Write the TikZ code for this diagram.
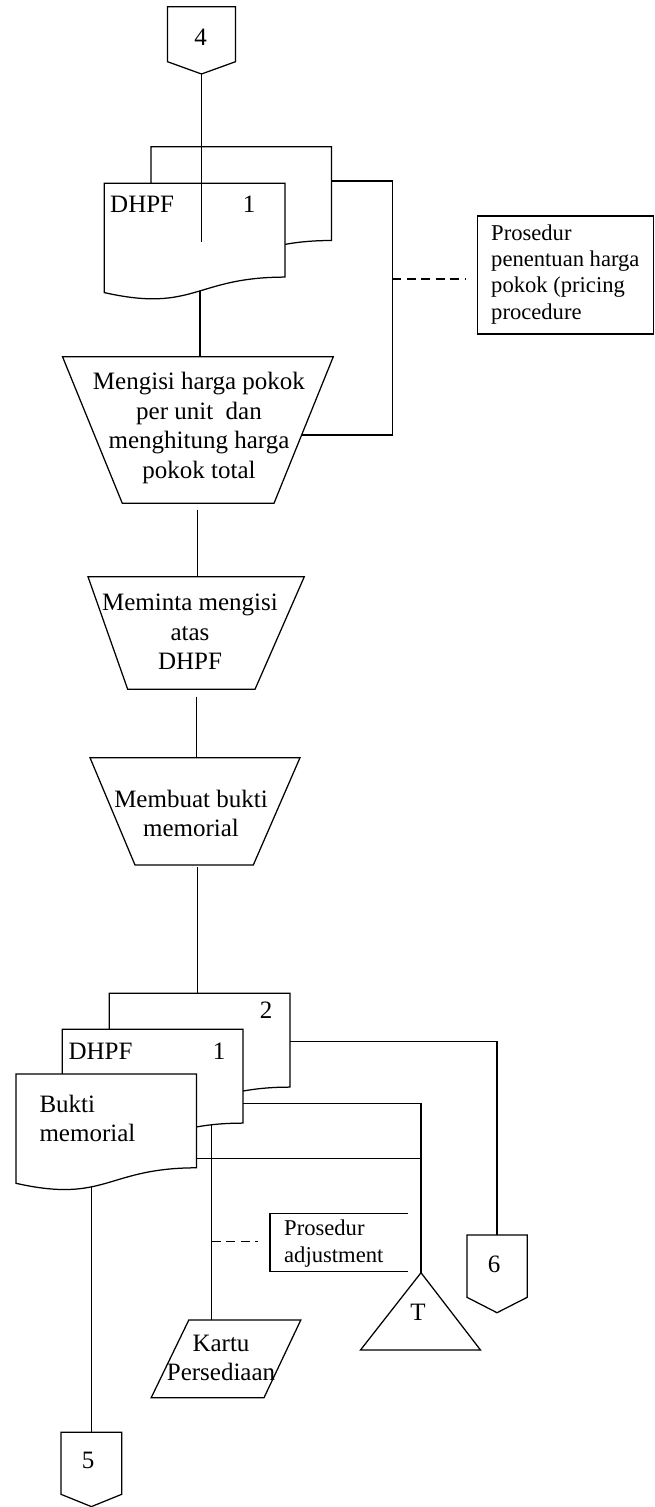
\documentclass[tikz,border=0pt]{standalone}
\usepackage{fontspec}
\setmainfont{Liberation Serif}
% document symbol: name, left, top, position of the tap point on the wavy edge
\newcommand\flowdocument[4]{%
  \draw[shapeline] (#2,#3) coordinate (#1-nw) -- (#2+180.6,#3) coordinate (#1-ne)
    -- (#2+180.6,#3+93.8) coordinate (#1-se)
    .. controls (#2+90.3,#3+93.8) and (#2+90.3,#3+129.6) .. coordinate[pos=#4] (#1-w) (#2,#3+109.3) coordinate (#1-sw)
    -- cycle;}
\begin{document}
\begin{tikzpicture}[x=1pt,y=-1pt,
  shapeline/.style={draw=black,line width=1.25pt,fill=white,line join=miter},
  link/.style={draw=black,line width=1.25pt},
  tapline/.style={draw=black,line width=1.25pt,dash pattern=on 9pt off 5.5pt},
  bigtext/.style={inner sep=0pt,align=center,font=\fontsize{25}{29.4}\selectfont},
  smalltext/.style={inner sep=0pt,align=left,font=\fontsize{22.6}{26.3}\selectfont}]
\useasboundingbox (0,0) rectangle (655,1507);

% off-page connector 4
\draw[shapeline] (167.5,6.7) coordinate (c4-nw) -- (235.5,6.7) -- (235.5,61.7)
  -- (201.5,74) coordinate (c4-tip) -- (167.5,61.7) -- cycle;
\node[bigtext] (c4) at (200.5,37) {4};

% DHPF, two copies
\flowdocument{dB}{151}{146.7}{0.5}
\flowdocument{dA}{104.3}{183.3}{0.46}
\node[bigtext,anchor=base west] (dA-name) at (110,212.7) {DHPF};
\node[bigtext,anchor=base] (dA-copy) at (249,212.7) {1};
\coordinate (dA-mark) at (201.5,241.7);
\draw[link] (c4-tip) -- (dA-mark);

% fill in cost prices
\draw[shapeline] (62.5,356.7) coordinate (t1-nw) -- (333.3,356.7) coordinate (t1-ne)
  -- coordinate[pos=0.534] (t1-e) (274,503.3) coordinate (t1-se)
  -- (122.3,503.3) coordinate (t1-sw) -- cycle;
\node[bigtext] (t1) at (199,428) {Mengisi harga pokok\\per unit~ dan\\menghitung harga\\pokok total};
\draw[link] (dA-w) -- (dA-w |- t1-nw);

% copy 2 routed to the pricing step
\coordinate (loop-ne) at (392.3,181);
\draw[link] (dB-ne |- loop-ne) -- (loop-ne) -- (loop-ne |- t1-e) -- (t1-e);

% pricing procedure annotation (last line on the given baseline)
\draw[shapeline] (477.5,216) coordinate (n1-nw) rectangle (653.5,334);
\node[smalltext,anchor=base west] (n1) at (491,319) {Prosedur\\penentuan harga\\pokok (pricing\\procedure};
\coordinate (n1-tap) at (465.5,279);
\draw[tapline] (loop-ne |- n1-tap) -- (n1-tap);

% request to fill DHPF
\coordinate (t1-out) at (197.5,509.5);
\draw[shapeline] (88,576.7) coordinate (t2-nw) -- (304.3,576.7) -- (255,689.3) -- (127.7,689.3) -- cycle;
\node[bigtext] (t2) at (190,632) {Meminta mengisi\\atas\\DHPF};
\draw[link] (t1-out) -- (t1-out |- t2-nw);

% prepare memorial voucher
\coordinate (t2-out) at (196.7,696.7);
\draw[shapeline] (90,757.7) coordinate (t3-nw) -- (300,757.7) -- (253.3,865) -- (135,865) -- cycle;
\node[bigtext] (t3) at (191,813.5) {Membuat bukti\\memorial};
\draw[link] (t2-out) -- (t2-out |- t3-nw);
\coordinate (t3-out) at (197.5,866.7);

% output documents
\flowdocument{eB}{109.3}{993.3}{0.5}
\flowdocument{eM}{62.3}{1029.3}{0.13}
\flowdocument{eF}{16}{1074}{0.61}
\draw[link] (t3-out) -- (t3-out |- eB-nw);
\node[bigtext,anchor=base] (eB-copy) at (266,1018.5) {2};
\node[bigtext,anchor=base west] (eM-name) at (68.3,1059.3) {DHPF};
\node[bigtext,anchor=base] (eM-copy) at (219,1059.3) {1};
\node[bigtext,anchor=base west,align=left] (eF-name) at (39.3,1141.7) {Bukti\\memorial};

% off-page connector 6
\draw[shapeline] (467,1235) coordinate (c6-nw) -- (527.2,1235) -- (527.2,1297.3)
  -- (497,1312.7) -- (467,1297.3) -- cycle;
\node[bigtext] (c6) at (494,1264) {6};
\coordinate (c6-in) at (497,1235);
\coordinate (c6-route) at (497,1041.3);
\draw[link] (eB-ne |- c6-route) -- (c6-route) -- (c6-in);

% file T
\draw[shapeline] (421,1272.7) coordinate (tf-top) -- (480.5,1350) -- (360.5,1350) -- cycle;
\node[bigtext] (tf) at (418,1312) {T};
\coordinate (tf-route) at (421,1103.5);
\coordinate (tf-join) at (421,1158.3);
\draw[link] (eM-ne |- tf-route) -- (tf-route) -- (tf-top);
\draw[link] (eF-ne |- tf-join) -- (tf-join);

% inventory card
\draw[shapeline] (188.8,1320) coordinate (k-nw) -- (300.8,1320) -- (264,1397.7) -- (151.2,1397.7) -- cycle;
\node[bigtext] (k) at (221,1358) {Kartu\\Persediaan};
\draw[link] (eM-w) -- (eM-w |- k-nw);

% adjustment procedure annotation
\draw[link] (407.7,1213.3) -- (270,1213.3) coordinate (n2-nw) -- (270,1271.7) -- (407.7,1271.7);
\node[smalltext,anchor=base west] (n2) at (284,1262) {Prosedur\\adjustment};
\coordinate (n2-tap) at (257.7,1241.5);
\draw[tapline] (eM-w |- n2-tap) -- (n2-tap);

% off-page connector 5
\draw[shapeline] (61,1432.3) coordinate (c5-nw) -- (121.7,1432.3) -- (121.7,1494.3)
  -- (91.4,1506.6) -- (61,1494.3) -- cycle;
\node[bigtext] (c5) at (88,1460) {5};
\draw[link] (eF-w) -- (eF-w |- c5-nw);
\end{tikzpicture}
\end{document}
